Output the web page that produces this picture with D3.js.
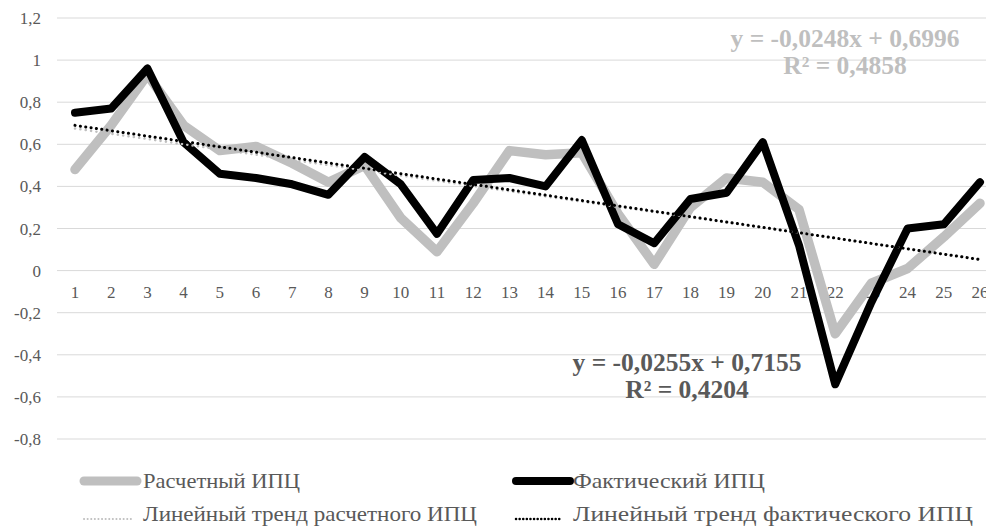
<!DOCTYPE html>
<html><head><meta charset="utf-8">
<script src="https://cdn.jsdelivr.net/npm/d3@7/dist/d3.min.js"></script>
<style>html,body{margin:0;padding:0;background:#fff;}svg{display:block;} text{font-family:"Liberation Serif","Times New Roman",serif;}</style>
</head><body>
<svg id="c" width="986" height="528"></svg>
<script>
const categories = d3.range(1, 27);
const calculated = [0.48,0.69,0.93,0.69,0.57,0.59,0.51,0.42,0.50,0.25,0.09,0.32,0.57,0.55,0.56,0.27,0.03,0.30,0.44,0.42,0.29,-0.30,-0.06,0.01,0.16,0.32];
const actual = [0.75,0.77,0.96,0.61,0.46,0.44,0.41,0.36,0.54,0.41,0.175,0.43,0.44,0.40,0.62,0.22,0.13,0.34,0.37,0.61,0.12,-0.54,-0.15,0.20,0.22,0.42];
const yTicks = [-0.8,-0.6,-0.4,-0.2,0,0.2,0.4,0.6,0.8,1,1.2];
const trendCalc = {slope: -0.0248, intercept: 0.6996, r2: "0,4858"};
const trendAct = {slope: -0.0255, intercept: 0.7155, r2: "0,4204"};
const seriesNames = ["Расчетный ИПЦ","Фактический ИПЦ","Линейный тренд расчетного ИПЦ","Линейный тренд фактического ИПЦ"];

const svg = d3.select("#c");
const x = d3.scalePoint().domain(categories).range([75, 980]);
const y = d3.scaleLinear().domain([-0.8, 1.2]).range([439, 18]);
const fmt = v => (Math.round(v*10)/10).toString().replace(".", ",");

// gridlines
svg.append("g").selectAll("line").data(yTicks).join("line")
  .attr("x1", 57).attr("x2", 986)
  .attr("y1", d => y(d)).attr("y2", d => y(d))
  .attr("stroke", "#d9d9d9").attr("stroke-width", 1);

// y labels
svg.append("g").selectAll("text").data(yTicks).join("text")
  .attr("x", 41).attr("y", d => y(d) + 6)
  .attr("text-anchor", "end").attr("font-size", 17)
  .attr("fill", "#595959").text(fmt);

// x labels
svg.append("g").selectAll("text").data(categories).join("text")
  .attr("x", d => x(d)).attr("y", y(0) + 27)
  .attr("text-anchor", "middle").attr("font-size", 17)
  .attr("fill", "#595959").text(d => d);

const line = d3.line().x((d,i) => x(categories[i])).y(d => y(d));
svg.append("path").datum(calculated).attr("d", line)
  .attr("fill", "none").attr("stroke", "#bfbfbf").attr("stroke-width", 9.5)
  .attr("stroke-linejoin", "round").attr("stroke-linecap", "round");
svg.append("path").datum(actual).attr("d", line)
  .attr("fill", "none").attr("stroke", "#000").attr("stroke-width", 8)
  .attr("stroke-linejoin", "round").attr("stroke-linecap", "round");

function trend(t, color, w, dash) {
  const x0 = categories[0], x1 = categories[categories.length-1];
  svg.append("line")
    .attr("x1", x(x0)).attr("y1", y(t.slope*x0 + t.intercept))
    .attr("x2", x(x1)).attr("y2", y(t.slope*x1 + t.intercept))
    .attr("stroke", color).attr("stroke-width", w).attr("stroke-dasharray", dash)
    .attr("stroke-linecap", "round");
}
trend(trendCalc, "#bfbfbf", 2.5, "0.1,5.3");
trend(trendAct, "#000", 3, "0.1,5.3");

// equations
const eq = t => "y = " + t.slope.toString().replace(".", ",") + "x + " + t.intercept.toString().replace(".", ",");
function eqLabel(t, cx, by, color) {
  const g = svg.append("g").attr("font-weight", "bold")
    .attr("font-size", 25.5).attr("fill", color).attr("text-anchor", "middle");
  g.append("text").attr("x", cx).attr("y", by).text(eq(t));
  g.append("text").attr("x", cx).attr("y", by + 27).text("R² = " + t.r2);
}
eqLabel(trendCalc, 845, 47, "#bfbfbf");
eqLabel(trendAct, 687, 371, "#595959");

// legend
const leg = [
  {name: seriesNames[0], x1: 84, x2: 137, y: 481, color: "#bfbfbf", w: 9, dash: null, tx: 143, ty: 488, len: 157},
  {name: seriesNames[1], x1: 516, x2: 570, y: 481, color: "#000", w: 8, dash: null, tx: 573, ty: 488, len: 192},
  {name: seriesNames[2], x1: 84, x2: 133, y: 519, color: "#bfbfbf", w: 2, dash: "0.1,3.5", tx: 143, ty: 521, len: 334},
  {name: seriesNames[3], x1: 516, x2: 561, y: 519, color: "#000", w: 2.5, dash: "0.1,3.5", tx: 573, ty: 521, len: 400}
];
const lg = svg.append("g");
leg.forEach(d => {
  lg.append("line").attr("x1", d.x1).attr("x2", d.x2).attr("y1", d.y).attr("y2", d.y)
    .attr("stroke", d.color).attr("stroke-width", d.w).attr("stroke-linecap", "round")
    .attr("stroke-dasharray", d.dash);
  lg.append("text").attr("x", d.tx).attr("y", d.ty)
    .attr("font-size", 21).attr("fill", "#595959")
    .attr("textLength", d.len).attr("lengthAdjust", "spacingAndGlyphs").text(d.name);
});
</script>
</body></html>
